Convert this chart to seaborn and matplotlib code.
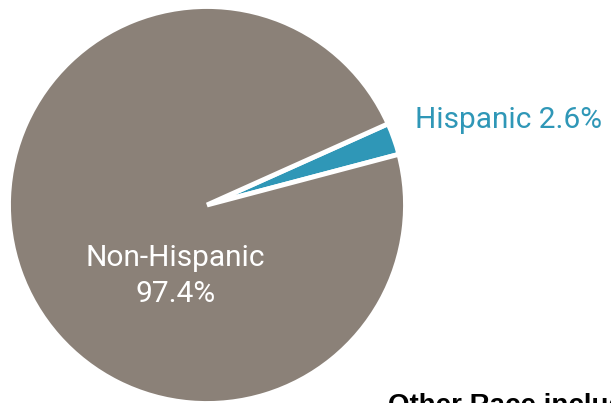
import matplotlib
matplotlib.use("Agg")
import matplotlib.pyplot as plt
import seaborn as sns

labels = ["Hispanic", "Non-Hispanic"]
shares = [2.6, 97.4]
colors = ["#2F97B7", "#8B8178"]

sns.set_theme(style="white")
plt.rcParams["font.family"] = ["Roboto", "DejaVu Sans"]

fig = plt.figure(figsize=(6.11, 4.03), dpi=100)
ax = fig.add_axes([0, 0, 1, 1])

# pie drawn in pixel-like data units (y up), white separators between wedges
cx, cy, r = 207, 198, 198.5
ax.pie(
    shares, colors=colors, startangle=14.8, counterclock=True,
    center=(cx, cy), radius=r, frame=True,
    wedgeprops=dict(edgecolor="white", linewidth=3.5),
)
ax.set_xlim(0, 611)
ax.set_ylim(0, 403)
ax.set_aspect("equal")
ax.axis("off")

ax.text(415, 403 - 128.3, f"{labels[0]} {shares[0]}%", color=colors[0],
        fontsize=21.5, ha="left", va="baseline")
ax.text(175, 403 - 266, labels[1], color="white", fontsize=21.5,
        ha="center", va="baseline")
ax.text(175.5, 403 - 301.7, f"{shares[1]}%", color="white", fontsize=21.5,
        ha="center", va="baseline")

fig.text(388 / 611, (403 - 393) / 403, "Other Race includes",
         fontsize=20, fontweight="bold", color="black",
         family=["Liberation Sans", "DejaVu Sans"], ha="left", va="top")

fig.savefig("out.png", dpi=100)
